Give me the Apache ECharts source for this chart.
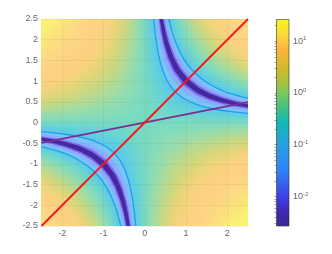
<!DOCTYPE html>
<html><head><meta charset="utf-8">
<style>
html,body{margin:0;padding:0;background:#fff}
#c{width:332px;height:254px}
canvas[data-zr-dom-id="zr_0"]{filter:blur(3.5px);clip-path:inset(19px 84px 28px 41.5px)}
canvas[data-zr-dom-id="zr_1"]{filter:blur(0.6px);clip-path:inset(19px 84px 28px 41.5px)}
canvas[data-zr-dom-id="zr_2"]{filter:blur(0.35px)}
</style>
<script src="https://cdn.jsdelivr.net/npm/echarts@6/dist/echarts.min.js"></script>
</head><body><div id="c"></div>
<script>
const xTicks=[-2,-1,0,1,2];
const yTicks=[-2.5,-2,-1.5,-1,-0.5,0,0.5,1,1.5,2,2.5];
const heatX=[-2.6,-2.4,-2.2,-2,-1.8,-1.6,-1.4,-1.2,-1,-0.8,-0.6,-0.4,-0.2,0,0.2,0.4,0.6,0.8,1,1.2,1.4,1.6,1.8,2,2.2,2.4,2.6];
const heatY=heatX.slice();
// log10 of the plotted value, rows from top (y=2.6) to bottom (y=-2.6)
const heatRows=[
[1.49,1.42,1.36,1.28,1.21,1.12,1.03,.93,.81,.68,.52,.32,.06,-.3,-.94,-1,-.8,-.23,.11,.35,.54,.7,.83,.95,1.05,1.14,1.22],
[1.42,1.36,1.3,1.23,1.15,1.07,.98,.88,.76,.63,.47,.28,.04,-.3,-.87,-1,-1,-.37,-.01,.25,.45,.61,.74,.86,.96,1.05,1.14],
[1.36,1.3,1.23,1.16,1.09,1.01,.92,.82,.71,.58,.43,.25,.02,-.3,-.8,-1,-1,-.54,-.14,.13,.34,.5,.64,.76,.87,.96,1.05],
[1.28,1.23,1.16,1.1,1.02,.95,.86,.76,.65,.53,.38,.21,-.01,-.3,-.74,-1,-1,-.74,-.3,-.01,.21,.38,.53,.65,.76,.86,.95],
[1.21,1.15,1.09,1.02,.95,.88,.79,.7,.59,.47,.34,.17,-.03,-.3,-.69,-1,-1,-1,-.49,-.17,.06,.25,.4,.53,.64,.74,.83],
[1.12,1.07,1.01,.95,.88,.8,.72,.63,.53,.42,.28,.13,-.06,-.3,-.64,-1,-1,-1,-.74,-.37,-.11,.09,.25,.38,.5,.61,.7],
[1.03,.98,.92,.86,.79,.72,.64,.56,.46,.35,.23,.09,-.09,-.3,-.59,-1,-1,-1,-1,-.64,-.34,-.11,.06,.21,.34,.45,.54],
[.93,.88,.82,.76,.7,.63,.56,.47,.38,.28,.17,.04,-.11,-.3,-.54,-.87,-1,-1,-1,-1,-.64,-.37,-.17,-.01,.13,.25,.35],
[.81,.76,.71,.65,.59,.53,.46,.38,.3,.21,.11,-.01,-.14,-.3,-.49,-.74,-1,-1,-1,-1,-1,-.74,-.49,-.3,-.14,-.01,.11],
[.68,.63,.58,.53,.47,.42,.35,.28,.21,.13,.04,-.06,-.17,-.3,-.45,-.64,-.87,-1,-1,-1,-1,-1,-1,-.74,-.54,-.37,-.23],
[.52,.47,.43,.38,.34,.28,.23,.17,.11,.04,-.03,-.11,-.2,-.3,-.41,-.54,-.69,-.87,-1,-1,-1,-1,-1,-1,-1,-1,-.8],
[.32,.28,.25,.21,.17,.13,.09,.04,-.01,-.06,-.11,-.17,-.23,-.3,-.37,-.45,-.54,-.64,-.74,-.87,-1,-1,-1,-1,-1,-1,-1],
[.06,.04,.02,-.01,-.03,-.06,-.09,-.11,-.14,-.17,-.2,-.23,-.27,-.3,-.34,-.37,-.41,-.45,-.49,-.54,-.59,-.64,-.69,-.74,-.8,-.87,-.94],
[-.3,-.3,-.3,-.3,-.3,-.3,-.3,-.3,-.3,-.3,-.3,-.3,-.3,-.3,-.3,-.3,-.3,-.3,-.3,-.3,-.3,-.3,-.3,-.3,-.3,-.3,-.3],
[-.94,-.87,-.8,-.74,-.69,-.64,-.59,-.54,-.49,-.45,-.41,-.37,-.34,-.3,-.27,-.23,-.2,-.17,-.14,-.11,-.09,-.06,-.03,-.01,.02,.04,.06],
[-1,-1,-1,-1,-1,-1,-1,-.87,-.74,-.64,-.54,-.45,-.37,-.3,-.23,-.17,-.11,-.06,-.01,.04,.09,.13,.17,.21,.25,.28,.32],
[-.8,-1,-1,-1,-1,-1,-1,-1,-1,-.87,-.69,-.54,-.41,-.3,-.2,-.11,-.03,.04,.11,.17,.23,.28,.34,.38,.43,.47,.52],
[-.23,-.37,-.54,-.74,-1,-1,-1,-1,-1,-1,-.87,-.64,-.45,-.3,-.17,-.06,.04,.13,.21,.28,.35,.42,.47,.53,.58,.63,.68],
[.11,-.01,-.14,-.3,-.49,-.74,-1,-1,-1,-1,-1,-.74,-.49,-.3,-.14,-.01,.11,.21,.3,.38,.46,.53,.59,.65,.71,.76,.81],
[.35,.25,.13,-.01,-.17,-.37,-.64,-1,-1,-1,-1,-.87,-.54,-.3,-.11,.04,.17,.28,.38,.47,.56,.63,.7,.76,.82,.88,.93],
[.54,.45,.34,.21,.06,-.11,-.34,-.64,-1,-1,-1,-1,-.59,-.3,-.09,.09,.23,.35,.46,.56,.64,.72,.79,.86,.92,.98,1.03],
[.7,.61,.5,.38,.25,.09,-.11,-.37,-.74,-1,-1,-1,-.64,-.3,-.06,.13,.28,.42,.53,.63,.72,.8,.88,.95,1.01,1.07,1.12],
[.83,.74,.64,.53,.4,.25,.06,-.17,-.49,-1,-1,-1,-.69,-.3,-.03,.17,.34,.47,.59,.7,.79,.88,.95,1.02,1.09,1.15,1.21],
[.95,.86,.76,.65,.53,.38,.21,-.01,-.3,-.74,-1,-1,-.74,-.3,-.01,.21,.38,.53,.65,.76,.86,.95,1.02,1.1,1.16,1.23,1.28],
[1.05,.96,.87,.76,.64,.5,.34,.13,-.14,-.54,-1,-1,-.8,-.3,.02,.25,.43,.58,.71,.82,.92,1.01,1.09,1.16,1.23,1.3,1.36],
[1.14,1.05,.96,.86,.74,.61,.45,.25,-.01,-.37,-1,-1,-.87,-.3,.04,.28,.47,.63,.76,.88,.98,1.07,1.15,1.23,1.3,1.36,1.42],
[1.22,1.14,1.05,.95,.83,.7,.54,.35,.11,-.23,-.8,-1,-.94,-.3,.06,.32,.52,.68,.81,.93,1.03,1.12,1.21,1.28,1.36,1.42,1.49]
];
const heatColors=['#58c4f0','#5ccce6','#62d2da','#70d8c8','#80dcbc','#98dcac','#b8da8e','#d6d678','#f4d47c','#fed082','#fdd684','#fbe47c','#f8f870'];
// band edges, upper right branch
const ur145=[[.58,2.5],[.65,2.23],[.75,1.93],[.9,1.61],[1.05,1.38],[1.2,1.21],[1.4,1.04],[1.65,.88],[1.9,.76],[2.2,.66],[2.5,.58]];
const ur055=[[.22,2.5],[.25,2.2],[.29,1.9],[.34,1.62],[.4,1.375],[.47,1.17],[.55,1],[.67,.82],[.82,.67],[1,.55],[1.25,.44],[1.6,.344],[2,.275],[2.5,.22]];
const ur130=[[.52,2.5],[.59,2.2],[.68,1.91],[.81,1.6],[.96,1.35],[1.14,1.14],[1.35,.96],[1.6,.81],[1.91,.68],[2.2,.59],[2.5,.52]];
const ur070=[[.28,2.5],[.32,2.19],[.37,1.89],[.45,1.56],[.55,1.27],[.68,1.03],[.837,.837],[1.03,.68],[1.27,.55],[1.56,.45],[1.89,.37],[2.19,.32],[2.5,.28]];
const ur117=[[.468,2.5],[.53,2.21],[.62,1.89],[.75,1.56],[.9,1.3],[1.08,1.08],[1.3,.9],[1.56,.75],[1.89,.62],[2.21,.53],[2.5,.468]];
const ur083=[[.332,2.5],[.38,2.18],[.44,1.89],[.53,1.57],[.66,1.26],[.91,.91],[1.26,.66],[1.57,.53],[1.89,.44],[2.18,.38],[2.5,.332]];
const ur110=[[.44,2.5],[.5,2.2],[.58,1.9],[.7,1.57],[.85,1.29],[1.05,1.05],[1.29,.85],[1.57,.7],[1.9,.58],[2.2,.5],[2.5,.44]];
const ur090=[[.36,2.5],[.41,2.2],[.475,1.89],[.57,1.58],[.71,1.27],[.95,.95],[1.27,.71],[1.58,.57],[1.89,.475],[2.2,.41],[2.5,.36]];
// band edges, lower left branch
const ll145=[[-.58,-2.5],[-.65,-2.23],[-.75,-1.93],[-.9,-1.61],[-1.05,-1.38],[-1.2,-1.21],[-1.4,-1.04],[-1.65,-.88],[-1.9,-.76],[-2.2,-.66],[-2.5,-.58]];
const ll055=[[-.22,-2.5],[-.25,-2.2],[-.29,-1.9],[-.34,-1.62],[-.4,-1.375],[-.47,-1.17],[-.55,-1],[-.67,-.82],[-.82,-.67],[-1,-.55],[-1.25,-.44],[-1.6,-.344],[-2,-.275],[-2.5,-.22]];
const ll130=[[-.52,-2.5],[-.59,-2.2],[-.68,-1.91],[-.81,-1.6],[-.96,-1.35],[-1.14,-1.14],[-1.35,-.96],[-1.6,-.81],[-1.91,-.68],[-2.2,-.59],[-2.5,-.52]];
const ll070=[[-.28,-2.5],[-.32,-2.19],[-.37,-1.89],[-.45,-1.56],[-.55,-1.27],[-.68,-1.03],[-.837,-.837],[-1.03,-.68],[-1.27,-.55],[-1.56,-.45],[-1.89,-.37],[-2.19,-.32],[-2.5,-.28]];
const ll117=[[-.468,-2.5],[-.53,-2.21],[-.62,-1.89],[-.75,-1.56],[-.9,-1.3],[-1.08,-1.08],[-1.3,-.9],[-1.56,-.75],[-1.89,-.62],[-2.21,-.53],[-2.5,-.468]];
const ll083=[[-.332,-2.5],[-.38,-2.18],[-.44,-1.89],[-.53,-1.57],[-.66,-1.26],[-.91,-.91],[-1.26,-.66],[-1.57,-.53],[-1.89,-.44],[-2.18,-.38],[-2.5,-.332]];
const ll110=[[-.44,-2.5],[-.5,-2.2],[-.58,-1.9],[-.7,-1.57],[-.85,-1.29],[-1.05,-1.05],[-1.29,-.85],[-1.57,-.7],[-1.9,-.58],[-2.2,-.5],[-2.5,-.44]];
const ll090=[[-.36,-2.5],[-.41,-2.2],[-.475,-1.89],[-.57,-1.58],[-.71,-1.27],[-.95,-.95],[-1.27,-.71],[-1.58,-.57],[-1.89,-.475],[-2.2,-.41],[-2.5,-.36]];
const bandColors=['#78c6f6','#8cacff','#7d6cf0','#45289f'];
const bandEdges=[[ur145,ur055,0],[ur130,ur070,1],[ur117,ur083,2],[ur110,ur090,3],[ll145,ll055,0],[ll130,ll070,1],[ll117,ll083,2],[ll110,ll090,3]];
const redLine=[[-2.5,-2.5],[2.5,2.5]];
const purpleLine=[[-2.5,-0.49],[2.5,0.49]];
const barLevels=[1.42,1.1,.85,.5,.2,0,-.3,-.6,-1,-1.5,-2,-2.3,-2.57];
const barColors=['#f8f71e','#fbd83a','#fcb53c','#d4b92c','#a8c040','#7cc85c','#40c088','#10b8b8','#28a0e0','#3080f8','#3f40e8','#3f28b0','#3e2a90'];
const barTickValues=[.003,.004,.005,.006,.007,.008,.009,.01,.02,.03,.04,.05,.06,.07,.08,.09,.1,.2,.3,.4,.5,.6,.7,.8,.9,1,2,3,4,5,6,7,8,9,10,20];
const barLabelExponents=[-2,-1,0,1];

const heatData=[];
heatRows.forEach((row,r)=>row.forEach((v,c)=>heatData.push([c,heatRows.length-1-r,v])));
const series=[{type:'heatmap',zlevel:0,xAxisIndex:0,yAxisIndex:0,data:heatData,itemStyle:{borderWidth:0}}];
bandEdges.forEach(([a,b,i])=>series.push({type:'custom',zlevel:1,z:2+i,xAxisIndex:1,yAxisIndex:1,data:[[0,0]],silent:true,clip:false,
  renderItem:(p,api)=>({type:'polygon',shape:{points:a.concat(b.slice().reverse()).map(q=>api.coord(q))},style:{fill:bandColors[i]}})}));
[ur145,ur055,ll145,ll055].forEach(d=>series.push({type:'line',zlevel:1,z:8,xAxisIndex:1,yAxisIndex:1,data:d,smooth:true,showSymbol:false,lineStyle:{color:'#1f9ff0',width:1.3}}));
series.push({type:'line',zlevel:2,z:3,xAxisIndex:1,yAxisIndex:1,data:purpleLine,showSymbol:false,lineStyle:{color:'#7a3090',width:1.8}});
series.push({type:'line',zlevel:2,z:4,xAxisIndex:1,yAxisIndex:1,data:redLine,showSymbol:false,lineStyle:{color:'#f8141c',width:1.8}});
series.push({type:'custom',zlevel:2,z:2,xAxisIndex:2,yAxisIndex:2,data:[[0,0]],silent:true,
  renderItem:(p)=>{const s=p.coordSys;const top=barLevels[0],span=barLevels[0]-barLevels[barLevels.length-1];
    return {type:'rect',shape:{x:s.x,y:s.y,width:s.width,height:s.height},style:{stroke:'rgba(50,50,40,.6)',lineWidth:1,
      fill:{type:'linear',x:0,y:0,x2:0,y2:1,colorStops:barLevels.map((l,i)=>({offset:(top-l)/span,color:barColors[i]}))}}};}});
const label={color:'#666',fontSize:9,fontFamily:'Liberation Sans'};
const hidden={show:false,axisLine:{show:false},axisTick:{show:false},axisLabel:{show:false},splitLine:{show:false}};
const grid='rgba(110,110,50,.09)';
echarts.init(document.getElementById('c'),null,{renderer:'canvas'}).setOption({
  animation:false,
  visualMap:{show:false,seriesIndex:0,dimension:2,min:-1,max:1.4,inRange:{color:heatColors}},
  grid:[{left:33.24,top:10.74,width:223.02,height:223.02},{left:41.5,top:19,width:206.5,height:207},{left:276.5,top:19.5,width:12.5,height:206.5}],
  xAxis:[
    {type:'category',gridIndex:0,data:heatX,...hidden},
    {type:'value',gridIndex:1,zlevel:2,min:-2.5,max:2.5,axisLine:{show:false},axisTick:{show:false,customValues:xTicks},
     axisLabel:{...label,margin:3.5,customValues:xTicks,formatter:v=>String(v)},splitLine:{show:true,lineStyle:{color:grid,width:1}}},
    {type:'value',gridIndex:2,min:0,max:1,...hidden}],
  yAxis:[
    {type:'category',gridIndex:0,data:heatY,...hidden},
    {type:'value',gridIndex:1,zlevel:2,min:-2.5,max:2.5,interval:.5,axisLine:{show:false},axisTick:{show:false},
     axisLabel:{...label,margin:3.5,customValues:yTicks,formatter:v=>String(v)},splitLine:{show:true,lineStyle:{color:grid,width:1}}},
    {type:'value',gridIndex:2,zlevel:2,position:'right',min:-2.57,max:1.42,axisLine:{show:false},splitLine:{show:false},
     axisTick:{inside:true,length:2,lineStyle:{color:'rgba(50,50,40,.45)',width:1},customValues:barTickValues.map(Math.log10)},
     axisLabel:{margin:4,customValues:barLabelExponents,formatter:v=>'{b|10}{s|'+v+'}',
       rich:{b:{color:'#666',fontSize:9,fontFamily:'Liberation Sans'},s:{color:'#666',fontSize:6,fontFamily:'Liberation Sans',verticalAlign:'bottom',padding:[0,0,5,0]}}}}],
  series
});
</script></body></html>
